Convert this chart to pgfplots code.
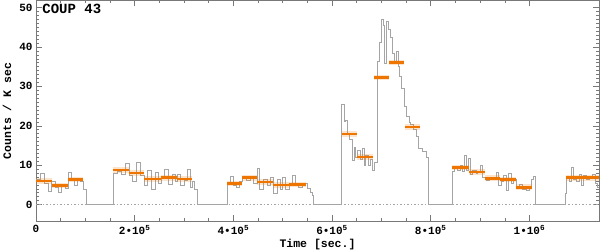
\documentclass[border=0pt]{standalone}
\usepackage{fontspec}
\setmainfont{Liberation Mono}
\usepackage{pgfplots}
\usepackage{pgfplotstable}
\pgfplotsset{compat=1.18}
\definecolor{axgray}{RGB}{120,120,120}
\definecolor{curvegray}{RGB}{165,165,165}
\definecolor{blockorange}{RGB}{238,118,0}

% Bayesian blocks (start/end of each block, nan breaks the line)
\pgfplotstableread{
x y
0 6.0
32500 6.0
32500 nan
32500 4.9
65000 4.9
65000 nan
65000 6.4
95400 6.4
95400 nan
156400 8.8
188800 8.8
188800 nan
188800 8.0
219300 8.0
219300 nan
219300 6.5
253800 6.5
253800 nan
253800 6.8
286300 6.8
286300 nan
286300 6.5
316800 6.5
316800 nan
387800 5.3
418300 5.3
418300 nan
418300 6.8
448700 6.8
448700 nan
448700 5.7
481200 5.7
481200 nan
481200 5.0
513700 5.0
513700 nan
513700 5.1
546200 5.1
546200 nan
619300 17.9
649800 17.9
649800 nan
651000 12.1
682300 12.1
682300 nan
684000 32.3
714700 32.3
714700 nan
714700 36.1
745200 36.1
745200 nan
747000 19.7
778000 19.7
778000 nan
842700 9.4
877200 9.4
877200 nan
877200 8.3
909700 8.3
909700 nan
909700 6.7
940100 6.7
940100 nan
940100 6.3
972600 6.3
972600 nan
972600 4.4
1005100 4.4
1005100 nan
1074100 6.8
1108700 6.8
1108700 nan
1108700 6.8
1140000 6.8
}\blocks

\begin{document}
\begin{tikzpicture}
\begin{axis}[name=ax, scale only axis, width=563pt, height=221pt,
  xmin=0, xmax=1.141e6, ymin=-4.3, ymax=51.8,
  axis line style={axgray, line width=0.6pt},
  tick style={axgray, line width=0.5pt},
  major tick length=6pt, minor tick length=3pt,
  tick align=inside,
  xtick={0,2e5,4e5,6e5,8e5,1e6},
  xticklabels={0, 2•10\textsuperscript{5}, 4•10\textsuperscript{5}, 6•10\textsuperscript{5}, 8•10\textsuperscript{5}, 1•10\textsuperscript{6}},
  minor x tick num=3,
  ytick={0,10,...,50}, minor y tick num=9,
  scaled x ticks=false,
  tick label style={font=\fontsize{11}{11}\selectfont\bfseries},
  /pgf/number format/assume math mode=true,
  ylabel={Counts / K sec}, xlabel={Time [sec.]},
  label style={font=\fontsize{11.5}{12}\selectfont\bfseries},
  ylabel style={at={(axis description cs:-0.0515,0.5)}, anchor=center},
  xlabel style={at={(axis description cs:0.5,-0.104)}, anchor=center},
  unbounded coords=jump,
]
% zero level
\addplot[curvegray, line width=0.4pt, dash pattern=on 1.5pt off 2pt] coordinates {(0,0) (1.141e6,0)};

% light curve (binned)
\addplot[const plot, curvegray, line width=0.45pt] coordinates {
(0,6.5)(8000,8.0)(16000,5.5)(24000,3.3)(30000,5.8)(38000,4.5)(46000,3.2)(52000,5.0)(60000,4.2)
(66000,8.2)(72000,6.5)(78000,5.0)(84000,6.5)(90000,5.8)(95000,4.0)(101500,0)
(156400,8.0)(164000,8.5)(172000,7.8)(180000,10.5)(188800,7.5)(196000,6.0)(204000,10.8)(212000,7.5)
(219300,5.0)(226000,8.8)(234000,4.0)(242000,8.2)(248000,5.5)(253800,7.0)(260000,9.0)(268000,5.2)
(276000,7.8)(282000,5.8)(286300,7.8)(292000,5.0)(300000,6.2)(306000,9.0)(312000,4.5)(316800,6.0)
(320000,4.0)(326900,0)
(387800,5.5)(394000,7.2)(400000,5.0)(406000,4.4)(412000,5.8)(418300,7.0)(426000,6.2)(434000,7.2)
(440000,5.5)(448700,9.3)(452000,3.8)(460000,6.5)(468000,5.0)(474000,7.0)(481200,2.8)(488000,6.5)
(494000,3.8)(500000,7.0)(506000,4.0)(513700,5.5)(520000,7.5)(526000,5.0)(532000,4.5)(540000,5.4)
(546200,5.3)(550000,4.2)(555000,3.2)(559000,2.3)(562500,0)
(619300,25.4)(624000,21.1)(627500,21.5)(630800,18.2)(635500,16.5)(641000,11.3)(644300,14.5)
(647700,12.0)(651200,13.8)(657900,11.5)(661300,14.4)(664600,10.0)(668000,12.5)(672700,10.0)
(676800,11.5)(681600,8.7)(684800,10.8)
(691800,36.5)(695000,41.2)(699900,47.0)(703200,45.5)(706600,36.0)(710100,46.5)(714100,44.5)
(717400,42.5)(722200,38.5)(725500,36.0)(730400,39.0)(734400,35.0)(737100,32.5)(740500,29.5)
(745800,25.0)(751300,22.4)(756000,21.0)(759400,20.5)(764900,19.0)(769600,17.3)(774300,14.4)
(783200,13.5)(789900,12.1)(794500,0)
(844000,8.5)(847400,9.6)(854200,8.8)(859600,10.0)(864400,8.5)(867800,12.6)(872500,8.8)(875900,11.7)
(880000,7.7)(884700,8.6)(891400,7.9)(894800,8.4)(900300,10.0)(905000,7.0)(911700,6.2)(918500,7.0)
(925300,6.5)(932000,8.3)(936800,4.9)(942200,6.0)(947000,7.5)(952300,3.6)(957100,7.9)(962600,5.3)
(968000,6.5)(972600,4.4)(979400,5.2)(986200,3.9)(992900,3.6)(999700,4.4)(1004400,6.5)(1008000,7.2)
(1012000,0)
(1072000,3.0)(1075000,7.0)(1080000,6.0)(1084000,9.5)(1088000,6.5)(1094000,5.8)(1100000,7.8)
(1105000,5.0)(1110000,7.5)(1116000,6.5)(1122000,7.2)(1128000,7.8)(1133000,5.5)(1138000,4.5)(1141000,4.5)
};

% blocks: soft halo, then solid core
\addplot[blockorange, line width=5.5pt, opacity=0.2] table {\blocks};
\addplot[blockorange, line width=2.7pt] table {\blocks};

\node[anchor=north west, inner sep=0pt, font=\fontsize{14}{14}\selectfont\bfseries]
  at (rel axis cs:0.011,0.985) {COUP 43};
\end{axis}
\pgfresetboundingbox
\path ([xshift=-36pt,yshift=-30pt]ax.south west) rectangle ([xshift=1pt,yshift=0.5pt]ax.north east);
\end{tikzpicture}
\end{document}
